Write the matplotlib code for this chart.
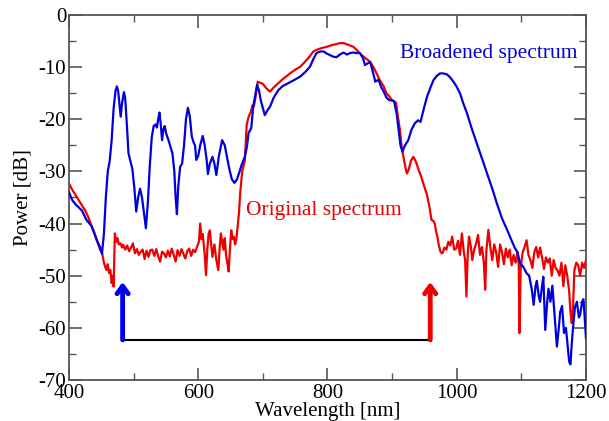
import matplotlib.pyplot as plt
from matplotlib.ticker import MultipleLocator

plt.rcParams['font.family'] = ['Liberation Serif', 'DejaVu Serif']
plt.rcParams['axes.unicode_minus'] = False

# broadened spectrum (blue)
wl_blue = [400, 405, 410, 420, 427, 435, 443, 448, 451, 454, 457, 460, 463, 466, 469, 472, 474, 476, 478, 480,
           482, 485, 487, 490, 492, 495, 498, 501, 504, 507, 510, 513, 516, 519, 522, 525, 528, 531, 534, 536,
           538, 540, 542, 544, 546, 548, 551, 554, 557, 560, 563, 565, 567, 569, 572, 575, 578, 581, 584, 587,
           590, 593, 595, 597, 600, 603, 607, 610, 613, 615, 618, 622, 625, 628, 632, 637, 641, 644, 648, 652,
           656, 660, 664, 667, 672, 675, 678, 682, 685, 688, 691, 694, 697, 703, 707, 711, 717, 724, 731, 739,
           748, 758, 766, 773, 778, 783, 789, 794, 799, 804, 809, 814, 819, 825, 830, 835, 840, 845, 850, 855,
           858, 862, 866, 870, 874, 879, 883, 887, 891, 895, 899, 903, 907, 910, 913, 916, 920, 925, 930, 935,
           940, 944, 949, 954, 959, 964, 969, 974, 979, 985, 990, 995, 1000, 1005, 1010, 1016, 1023, 1031, 1039,
           1047, 1055, 1062, 1070, 1078, 1084, 1090, 1094, 1098, 1103, 1108, 1112, 1116, 1119, 1122, 1124, 1127,
           1129, 1132, 1134, 1137, 1140, 1142, 1145, 1148, 1151, 1155, 1158, 1160, 1163, 1166, 1169, 1172, 1174,
           1176, 1178, 1181, 1183, 1186, 1189, 1191, 1194, 1196, 1198, 1200]
pw_blue = [-34.0, -35.5, -36.3, -37.5, -39.3, -40.5, -43.2, -44.5, -45.8, -42, -35, -30, -28, -24, -18, -14.5,
           -13.7, -14.5, -17, -19.5, -17, -14.8, -16, -22, -26.5, -28, -29.5, -33, -37.7, -35, -33.3, -35, -38,
           -40.9, -36, -29, -23.5, -21.3, -21.0, -21.6, -20, -18.7, -21, -24, -22, -21.3, -23, -24, -25.3, -26.5,
           -30, -35, -38.2, -33, -29.1, -28.5, -25, -20, -17.8, -19.5, -23.3, -24.5, -25, -27.8, -27, -25, -23.2,
           -25, -27.8, -30.5, -28.5, -27.2, -28.5, -30.7, -27, -24, -25, -26.9, -29.5, -31.5, -32.2, -31.5, -30,
           -28.8, -27.2, -25.5, -22.6, -21.7, -17.6, -15.5, -13.4, -14.5, -16.5, -19.2, -18.3, -17.6, -15.8, -14.4,
           -13.6, -13.1, -12.5, -11.8, -10.9, -9.9, -8.5, -7.3, -7.0, -7.0, -7.4, -7.7, -8.0, -8.1, -7.6, -7.2,
           -7.6, -7.3, -7.2, -7.3, -7.3, -8.3, -9.6, -9.3, -9.0, -10.8, -12.8, -12.4, -13.8, -14.7, -15.8, -16.3,
           -16.4, -16.5, -18.9, -22, -25, -26.2, -25, -24, -22, -20.8, -20.2, -20.5, -18, -15.7, -14, -12.5, -11.7,
           -11.2, -11.2, -11.4, -12.0, -12.8, -13.8, -15, -16.9, -18.9, -21.7, -24.6, -27.5, -30.4, -33.3, -36.1,
           -39.0, -41.2, -43.0, -44.7, -45.5, -47.6, -48.3, -49.5, -50.0, -52.5, -55.6, -52, -51, -54, -55, -52,
           -50.2, -60.4, -55, -52.5, -55, -51.9, -57, -63.6, -60, -57, -55.8, -61, -60, -64, -66.5, -67, -63,
           -58.5, -56, -55, -58, -57.5, -55, -54.5, -58, -62]

# original spectrum (red)
wl_red = [400, 405, 410, 415, 420, 425, 430, 435, 440, 444, 448, 451, 454, 456, 458, 460, 462, 464, 466, 468,
          469, 471, 473, 475, 477, 480, 482, 484, 487, 490, 493, 496, 499, 502, 505, 508, 511, 514, 517, 520,
          523, 526, 529, 532, 535, 538, 541, 544, 547, 550, 553, 556, 559, 562, 565, 568, 571, 574, 577, 580,
          583, 586, 589, 592, 595, 598, 601, 603, 605, 607, 610, 612, 614, 616, 618, 620, 622, 625, 628, 631,
          633, 635, 637, 639, 641, 643, 645, 647, 649, 651, 653, 655, 657, 659, 661, 663, 665, 668, 672, 675,
          678, 681, 684, 686, 689, 692, 696, 700, 705, 711, 716, 721, 729, 736, 742, 750, 758, 765, 772, 778,
          785, 792, 799, 806, 813, 819, 825, 832, 840, 846, 853, 860, 866, 871, 876, 881, 887, 891, 895, 899,
          903, 906, 909, 912, 915, 918, 921, 923, 926, 929, 933, 937, 941, 945, 950, 954, 958, 961, 964, 966,
          968, 970, 972, 975, 978, 981, 984, 987, 990, 993, 996, 999, 1002, 1005, 1008, 1011, 1013, 1015, 1017,
          1019, 1022, 1024, 1027, 1030, 1033, 1036, 1039, 1042, 1044, 1046, 1049, 1052, 1055, 1058, 1061, 1064,
          1067, 1070, 1073, 1076, 1079, 1082, 1085, 1088, 1091, 1094, 1096, 1097, 1099, 1102, 1105, 1108, 1111,
          1114, 1117, 1120, 1123, 1126, 1129, 1132, 1135, 1138, 1141, 1144, 1147, 1150, 1153, 1156, 1159, 1162,
          1165, 1168, 1171, 1174, 1176, 1178, 1180, 1182, 1185, 1188, 1191, 1194, 1197, 1200]
pw_red = [-32.3, -33.5, -34.5, -35.5, -36.5, -37.5, -38.8, -40.5, -42, -43.5, -45, -45.5, -47.5, -48.3, -48.9,
          -47.8, -49.5, -48.9, -51.4, -50, -52.1, -41.9, -43.5, -42.8, -44, -43.8, -44.6, -44.1, -45, -44.2,
          -45.3, -44.6, -43.8, -45.7, -44.9, -46, -45.4, -45, -46.8, -45.2, -46.4, -45.1, -45, -46.2, -44.9,
          -46.3, -47.3, -45.4, -45.7, -46.5, -45.2, -46.3, -44.8, -46, -47.3, -45.1, -46.2, -44.9, -45.8, -46.7,
          -45.3, -44.8, -46.2, -45, -45.5, -44.5, -43.5, -40, -43, -42, -46, -49.9, -45, -42, -41.3, -44, -46.4,
          -44, -47, -48.9, -45, -41.9, -43.5, -45, -42.8, -46, -47.5, -49.2, -45, -41.3, -43, -42.5, -44, -43,
          -40.5, -38, -34, -30, -28, -21, -19.5, -18.7, -17.3, -17.6, -15.5, -12.8, -13, -13.2, -14, -14.7, -14,
          -13.4, -12.5, -11.8, -11.2, -10.5, -9.9, -9.0, -8.0, -7.0, -6.6, -6.3, -6.1, -5.8, -5.6, -5.4, -5.4,
          -5.7, -6.1, -6.8, -7.7, -8.4, -9.0, -10.0, -11.2, -12.5, -13.7, -15.0, -15.5, -16.2, -16.6, -16.8,
          -19.5, -22, -25.5, -27.5, -29.5, -30.4, -29.5, -28, -27.2, -28.2, -29.7, -31, -33, -34.5, -37, -39.3,
          -39.5, -40, -41.5, -42.5, -44, -45.5, -45.7, -44.6, -45, -43.5, -44.2, -42.5, -45, -44.8, -43.3, -46,
          -41.9, -45.5, -47, -54, -46, -42.5, -44.5, -47, -45, -43.8, -42.2, -46, -44.5, -47.5, -52.7, -45,
          -41.2, -44.6, -47, -44, -45.5, -48.3, -44, -45.4, -47.8, -44.8, -46.5, -45, -48, -46, -47.5, -45.5,
          -48, -61, -48.5, -45.5, -44.5, -43.2, -46, -47, -48.5, -45.5, -44.5, -46.5, -44.6, -46.5, -48.7,
          -46.5, -47.5, -46.7, -50, -47, -48.5, -49, -50, -47.5, -52, -48, -50, -53, -57, -59.1, -56, -49,
          -47.5, -48, -50, -47.5, -48.5, -47]

# bandwidth marker
arrow_left = 483
arrow_right = 959
arrow_base = -62.3
arrow_tip = -51.2

fig = plt.figure(figsize=(6.09, 4.21), dpi=100)
ax = fig.add_axes([0.1133, 0.0974, 0.8489, 0.867])

ax.plot(wl_blue, pw_blue, color='#0000dd', lw=1.6, zorder=3)
ax.plot(wl_red, pw_red, color='#ee0000', lw=1.6, zorder=2)

ax.plot([arrow_left, arrow_right], [arrow_base, arrow_base], color='black', lw=1.5)
for x_arr, c in [(arrow_left, '#0000ee'), (arrow_right, '#ee0000')]:
    ax.annotate('', xy=(x_arr, arrow_tip), xytext=(x_arr, arrow_base),
                arrowprops=dict(arrowstyle='->,head_length=0.55,head_width=0.4', color=c, lw=3.5,
                                shrinkA=0, shrinkB=0))

ax.text(1050, -7.3, 'Broadened spectrum', color='#0000dd', fontsize=15.5, ha='center', va='center')
ax.text(795, -37.4, 'Original spectrum', color='#ee0000', fontsize=15.5, ha='center', va='center')

ax.set_xlim(400, 1200)
ax.set_ylim(-70, 0)
ax.xaxis.set_major_locator(MultipleLocator(200))
ax.xaxis.set_minor_locator(MultipleLocator(100))
ax.yaxis.set_major_locator(MultipleLocator(10))
ax.yaxis.set_minor_locator(MultipleLocator(5))
ax.tick_params(which='both', direction='in', top=True, right=True, color='#555555', labelsize=15)
ax.tick_params(which='major', length=9, width=1.2)
ax.tick_params(which='minor', length=5, width=1.0)
ax.tick_params(axis='y', pad=2)
ax.tick_params(axis='x', pad=3)
for s in ax.spines.values():
    s.set_color('#555555')
    s.set_linewidth(1.3)

ax.set_xlabel('Wavelength [nm]', fontsize=15, labelpad=-1)
ax.set_ylabel('Power [dB]', fontsize=15, labelpad=4)

fig.savefig('out.png', dpi=100)
